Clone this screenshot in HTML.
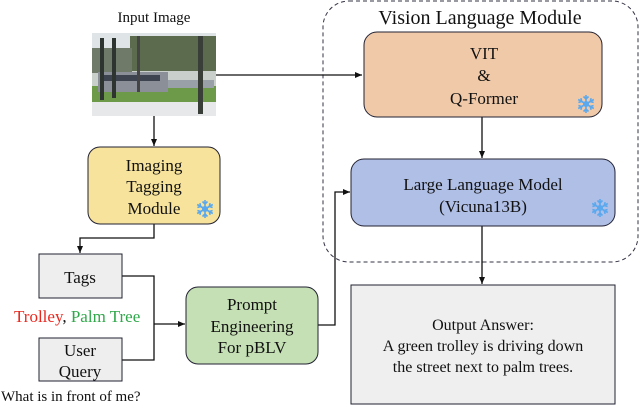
<!DOCTYPE html>
<html><head><meta charset="utf-8"><style>
html,body{margin:0;padding:0;background:#fff;width:640px;height:405px;overflow:hidden}
svg, svg text, svg tspan{font-family:"Liberation Serif","Times New Roman",serif}
</style></head><body>
<svg width="640" height="405" viewBox="0 0 640 405" xmlns="http://www.w3.org/2000/svg" font-family="Liberation Serif, serif">
<defs>
<marker id="a" markerWidth="8" markerHeight="8" refX="7" refY="4" orient="auto" markerUnits="userSpaceOnUse"><path d="M0,1 L7,4 L0,7 z" fill="#111"/></marker>
<g id="sf" stroke="#5aa8ee" stroke-width="1.6" fill="none"><path d="M0,-9V9M-7.8,-4.5L7.8,4.5M-7.8,4.5L7.8,-4.5"/><path d="M-2.5,-7.5L0,-5L2.5,-7.5M-2.5,7.5L0,5L2.5,7.5M-7.6,-1.5L-4.3,-2.5L-5.1,-5.8M7.6,1.5L4.3,2.5L5.1,5.8M-7.6,1.5L-4.3,2.5L-5.1,5.8M7.6,-1.5L4.3,-2.5L5.1,-5.8"/><circle r="2.2"/></g>
</defs>
<rect x="323" y="1" width="315" height="261" rx="26" fill="none" stroke="#334" stroke-width="1" stroke-dasharray="4,3"/>
<text x="480" y="24" font-size="20" text-anchor="middle" fill="#111">Vision Language Module</text>
<text x="154" y="22" font-size="15" text-anchor="middle" fill="#111">Input Image</text>
<g>
<rect x="92" y="33" width="124" height="83" fill="#c9d0cc"/>
<rect x="92" y="33" width="124" height="25" fill="#dfe4e6"/>
<rect x="130" y="36" width="86" height="35" fill="#5c6a4e"/>
<rect x="92" y="48" width="40" height="25" fill="#6f7a68"/>
<rect x="92" y="86" width="124" height="16" fill="#6c9a48"/>
<rect x="92" y="102" width="124" height="14" fill="#e6e8ea"/>
<rect x="98" y="72" width="70" height="20" fill="#8a8f98"/>
<rect x="100" y="75" width="60" height="6" fill="#3d4450"/>
<rect x="168" y="80" width="46" height="8" fill="#9aa0a8"/>
<rect x="198" y="36" width="5" height="78" fill="#3a3e38"/>
<rect x="100" y="38" width="4" height="62" fill="#2e3430"/>
<rect x="112" y="38" width="4" height="60" fill="#2e3430"/>
<rect x="137" y="36" width="3" height="56" fill="#444"/>
</g>
<g stroke="#111" stroke-width="1.3" fill="none">
<path d="M216,75H362" marker-end="url(#a)"/>
<path d="M154,116V146" marker-end="url(#a)"/>
<path d="M154,224V238H80V253" marker-end="url(#a)"/>
<path d="M122,276H154V360H122"/>
<path d="M154,324H185" marker-end="url(#a)"/>
<path d="M318,325H335V192H350" marker-end="url(#a)"/>
<path d="M482,117V158" marker-end="url(#a)"/>
<path d="M482,226V284" marker-end="url(#a)"/>
</g>
<rect x="88" y="147" width="132" height="77" rx="12" fill="#f7e39c" stroke="#223" stroke-width="1"/>
<text font-size="17" text-anchor="middle" fill="#111"><tspan x="154" y="171">Imaging</tspan><tspan x="154" y="192">Tagging</tspan><tspan x="154" y="214">Module</tspan></text>
<use href="#sf" x="205" y="209"/>
<rect x="39" y="254" width="83" height="44" fill="#eeeeee" stroke="#223" stroke-width="1"/>
<text x="80" y="283" font-size="17" text-anchor="middle" fill="#111">Tags</text>
<text x="14" y="322" font-size="17" fill="#111"><tspan fill="#e8281e">Trolley</tspan>, <tspan fill="#2fa84a">Palm Tree</tspan></text>
<rect x="39" y="338" width="83" height="43" fill="#eeeeee" stroke="#223" stroke-width="1"/>
<text font-size="17" text-anchor="middle" fill="#111"><tspan x="80" y="356">User</tspan><tspan x="80" y="377">Query</tspan></text>
<text x="1" y="401" font-size="15" fill="#111">What is in front of me?</text>
<rect x="186" y="287" width="132" height="77" rx="12" fill="#c5e0b4" stroke="#223" stroke-width="1"/>
<text font-size="17" text-anchor="middle" fill="#111"><tspan x="252" y="310">Prompt</tspan><tspan x="252" y="332">Engineering</tspan><tspan x="252" y="353">For pBLV</tspan></text>
<rect x="364" y="32" width="238" height="85" rx="13" fill="#f0c9a8" stroke="#223" stroke-width="1"/>
<text font-size="17" text-anchor="middle" fill="#111"><tspan x="484" y="59">VIT</tspan><tspan x="484" y="81">&amp;</tspan><tspan x="484" y="104">Q-Former</tspan></text>
<use href="#sf" x="586" y="104"/>
<rect x="351" y="159" width="264" height="67" rx="13" fill="#b0bfe6" stroke="#223" stroke-width="1"/>
<text font-size="17" text-anchor="middle" fill="#111"><tspan x="483" y="190">Large Language Model</tspan><tspan x="483" y="212">(Vicuna13B)</tspan></text>
<use href="#sf" x="600" y="208"/>
<rect x="351" y="285" width="264" height="119" fill="#efefef" stroke="#223" stroke-width="1"/>
<text font-size="16" text-anchor="middle" fill="#111"><tspan x="483" y="330">Output Answer:</tspan><tspan x="483" y="351">A green trolley is driving down</tspan><tspan x="483" y="372">the street next to palm trees.</tspan></text>
</svg>
</body></html>
